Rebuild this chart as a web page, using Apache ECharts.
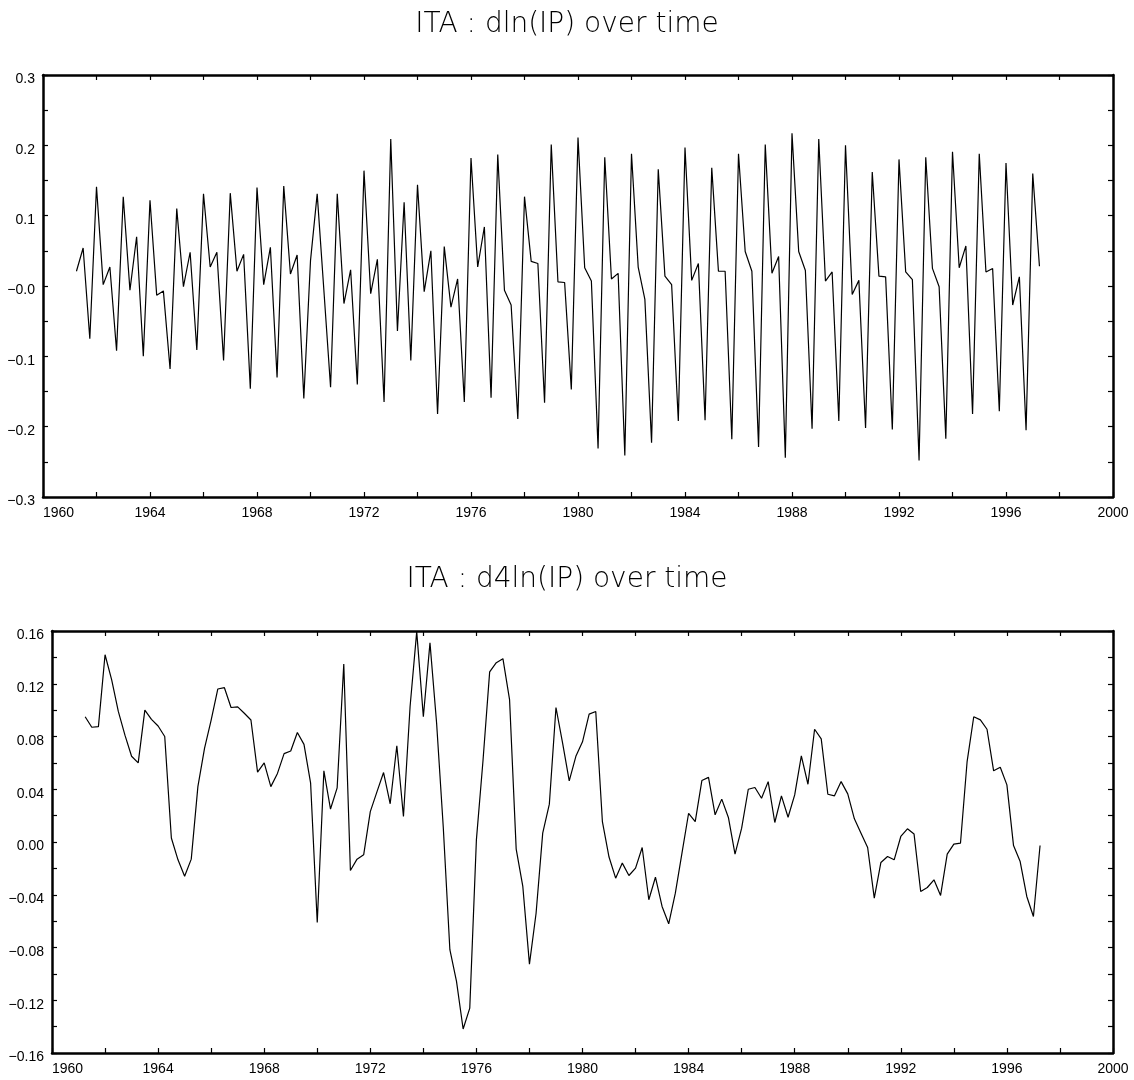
<!DOCTYPE html>
<html>
<head>
<meta charset="utf-8">
<script src="https://cdn.jsdelivr.net/npm/echarts@6/dist/echarts.min.js"></script>
<style>
  html, body { margin: 0; padding: 0; background: #fff; }
  #chart { width: 1134px; height: 1080px; }
</style>
</head>
<body>
<div id="chart"></div>
<script>
// Quarterly observations, first one at 1961.25, last at 1997.25
const startYear = 1961.25;
const quarterStep = 0.25;

const titleTop = 'ITA : dln(IP) over time';
const titleBottom = 'ITA : d4ln(IP) over time';

// dln(IP)
const dln = [
  0.021, 0.054, -0.075,
  0.141, 0.002, 0.027, -0.092,
  0.127, -0.006, 0.070, -0.100,
  0.122, -0.013, -0.007, -0.118,
  0.110, -0.001, 0.048, -0.091,
  0.131, 0.027, 0.048, -0.106,
  0.132, 0.021, 0.045, -0.146,
  0.140, 0.002, 0.055, -0.130,
  0.142, 0.017, 0.044, -0.160,
  0.036, 0.131, -0.006, -0.144,
  0.131, -0.025, 0.023, -0.140,
  0.164, -0.011, 0.038, -0.165,
  0.209, -0.064, 0.119, -0.106,
  0.144, -0.008, 0.050, -0.182,
  0.056, -0.030, 0.010, -0.165,
  0.182, 0.027, 0.084, -0.159,
  0.187, -0.006, -0.027, -0.189,
  0.127, 0.035, 0.032, -0.166,
  0.201, 0.006, 0.005, -0.147,
  0.211, 0.026, 0.007, -0.231,
  0.183, 0.010, 0.018, -0.241,
  0.188, 0.027, -0.019, -0.223,
  0.166, 0.014, 0.002, -0.192,
  0.197, 0.008, 0.032, -0.191,
  0.168, 0.021, 0.021, -0.218,
  0.188, 0.049, 0.021, -0.229,
  0.201, 0.018, 0.042, -0.244,
  0.217, 0.049, 0.022, -0.203,
  0.209, 0.007, 0.020, -0.192,
  0.200, -0.012, 0.008, -0.202,
  0.162, 0.014, 0.013, -0.204,
  0.180, 0.020, 0.009, -0.248,
  0.183, 0.025, -0.001, -0.217,
  0.191, 0.026, 0.057, -0.182,
  0.188, 0.020, 0.025, -0.178,
  0.175, -0.027, 0.013, -0.205,
  0.160, 0.028
];

// d4ln(IP)
const d4ln = [
  0.095, 0.087, 0.0875,
  0.142, 0.123, 0.099, 0.081,
  0.065, 0.060, 0.100, 0.093,
  0.088, 0.080, 0.003, -0.0135,
  -0.026, -0.013, 0.042, 0.071,
  0.0925, 0.116, 0.117, 0.102,
  0.1025, 0.0976, 0.0925, 0.053,
  0.060, 0.042, 0.052, 0.067,
  0.069, 0.083, 0.074, 0.0446,
  -0.061, 0.054, 0.025, 0.041,
  0.135, -0.0216, -0.013, -0.0097,
  0.023, 0.038, 0.0527, 0.029,
  0.073, 0.0193, 0.1027, 0.1595,
  0.095, 0.151, 0.090, 0.0116,
  -0.0817, -0.1057, -0.1418, -0.126,
  0.0016, 0.062, 0.129, 0.136,
  0.139, 0.108, -0.0054, -0.0337,
  -0.0926, -0.054, 0.0067, 0.0287,
  0.102, 0.075, 0.0463, 0.065,
  0.076, 0.097, 0.099, 0.0155,
  -0.0114, -0.0274, -0.016, -0.0254,
  -0.0198, -0.0042, -0.0438, -0.0267,
  -0.0489, -0.062, -0.0388, -0.0085,
  0.0218, 0.0155, 0.0466, 0.049,
  0.0206, 0.0325, 0.0186, -0.0092,
  0.0105, 0.040, 0.0413, 0.0332,
  0.0458, 0.0148, 0.035, 0.0188,
  0.0357, 0.0653, 0.0438, 0.0855,
  0.0782, 0.0362, 0.035, 0.0458,
  0.0365, 0.0176, 0.0067, -0.0042,
  -0.0425, -0.0155, -0.011, -0.0135,
  0.0042, 0.010, 0.006, -0.0375,
  -0.0345, -0.0287, -0.0405, -0.0092,
  -0.0016, -0.0009, 0.061, 0.095,
  0.0926, 0.0855, 0.054, 0.0567,
  0.0433, -0.0027, -0.0148, -0.0413,
  -0.0565, -0.0027
];

// Axis ranges / tick labels
const xRange = { min: 1960, max: 2000, interval: 4 };
const yTopRange = { min: -0.3, max: 0.3, interval: 0.1 };
const yBottomRange = { min: -0.16, max: 0.16, interval: 0.04 };

const dates = dln.map((_, i) => startYear + i * quarterStep);
const dlnPairs = dln.map((v, i) => [dates[i], v]);
const d4lnPairs = d4ln.map((v, i) => [startYear + i * quarterStep, v]);

const MINUS = '\u2212';
const fmtTop = v => (v < 0 || Math.abs(v) < 1e-9 ? MINUS : '') + Math.abs(v).toFixed(1);
const fmtBottom = v => (v < -1e-9 ? MINUS : '') + Math.abs(v).toFixed(2);

const labelFont = { fontFamily: 'Liberation Sans', fontSize: 14, color: '#000' };
const frameLine = { show: true, onZero: false, lineStyle: { color: '#000', width: 2.5 } };
const tickIn = { show: true, inside: true, length: 5, lineStyle: { color: '#000', width: 1.2 } };
const minorIn = { show: true, splitNumber: 2, length: 5, lineStyle: { color: '#000', width: 1.2 } };

function xAxes(gridIndex) {
  return [
    {
      type: 'value', gridIndex, position: 'bottom',
      min: xRange.min, max: xRange.max, interval: xRange.interval,
      axisLine: frameLine, axisTick: tickIn, minorTick: minorIn,
      splitLine: { show: false },
      axisLabel: Object.assign({ margin: 9, alignMinLabel: 'left', formatter: v => String(v) }, labelFont)
    },
    {
      type: 'value', gridIndex, position: 'top',
      min: xRange.min, max: xRange.max, interval: xRange.interval,
      axisLine: frameLine, axisTick: tickIn, minorTick: minorIn,
      splitLine: { show: false }, axisLabel: { show: false }
    }
  ];
}
function yAxes(gridIndex, range, fmt) {
  return [
    {
      type: 'value', gridIndex, position: 'left',
      min: range.min, max: range.max, interval: range.interval,
      axisLine: frameLine, axisTick: tickIn, minorTick: minorIn,
      splitLine: { show: false },
      axisLabel: Object.assign({ margin: 8, formatter: fmt, verticalAlign: 'top', lineHeight: 9 }, labelFont)
    },
    {
      type: 'value', gridIndex, position: 'right',
      min: range.min, max: range.max, interval: range.interval,
      axisLine: frameLine, axisTick: tickIn, minorTick: minorIn,
      splitLine: { show: false }, axisLabel: { show: false }
    }
  ];
}

const titleStyle = { fontFamily: 'DejaVu Sans', fontWeight: 200, fontSize: 28, color: '#000' };

const chart = echarts.init(document.getElementById('chart'), null, { renderer: 'canvas' });
chart.setOption({
  animation: false,
  backgroundColor: '#fff',
  title: [
    { text: titleTop, left: 'center', top: 6, textStyle: titleStyle },
    { text: titleBottom, left: 'center', top: 561, textStyle: titleStyle }
  ],
  grid: [
    { left: 43, right: 21, top: 75, height: 422, outerBoundsMode: 'none', containLabel: false },
    { left: 52, right: 21, top: 631, height: 422, outerBoundsMode: 'none', containLabel: false }
  ],
  xAxis: [...xAxes(0), ...xAxes(1)],
  yAxis: [...yAxes(0, yTopRange, fmtTop), ...yAxes(1, yBottomRange, fmtBottom)],
  series: [
    {
      type: 'line', xAxisIndex: 0, yAxisIndex: 0, data: dlnPairs,
      showSymbol: false, symbol: 'none',
      lineStyle: { color: '#000', width: 1.2 }
    },
    {
      type: 'line', xAxisIndex: 2, yAxisIndex: 2, data: d4lnPairs,
      showSymbol: false, symbol: 'none',
      lineStyle: { color: '#000', width: 1.2 }
    }
  ]
});
</script>
</body>
</html>
